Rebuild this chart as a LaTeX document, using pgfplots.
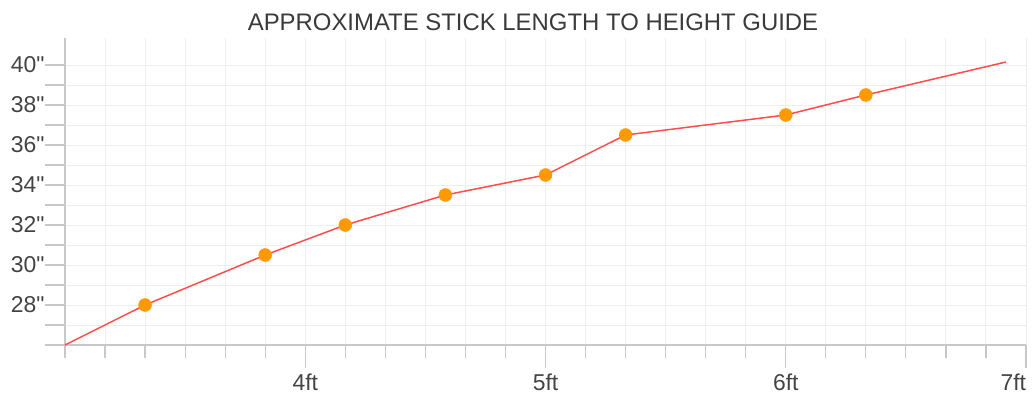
\documentclass[border=0pt]{standalone}
\usepackage{fontspec}
\setmainfont{Liberation Sans}[Ligatures=TeXOff]
\usepackage{pgfplots}
\pgfplotsset{compat=1.18}
\definecolor{gridc}{HTML}{EEEEEE}
\definecolor{axc}{HTML}{C8C8C8}
\definecolor{txt}{HTML}{444444}
\definecolor{titc}{HTML}{3A3A3A}
\definecolor{linec}{HTML}{FF4D4D}
\definecolor{markc}{HTML}{FF9900}
\newcommand{\inch}{\symbol{34}}
\begin{document}
\begin{tikzpicture}[x=1bp,y=1bp]
\begin{axis}[
  scale only axis, width=961bp, height=307bp,
  xmin=3, xmax=7, ymin=26, ymax=41.35,
  axis lines=left, axis line style={draw=axc, line width=1.2bp, -},
  tick align=outside,
  xtick={4,5,6,7}, xticklabels={4ft,5ft,6ft,\makebox[0pt][r]{7ft}},
  minor xtick={3,3.1666667,3.3333333,3.5,3.6666667,3.8333333,4.1666667,4.3333333,4.5,4.6666667,4.8333333,5.1666667,5.3333333,5.5,5.6666667,5.8333333,6.1666667,6.3333333,6.5,6.6666667,6.8333333},
  ytick={28,30,32,34,36,38,40}, yticklabels={28\inch,30\inch,32\inch,34\inch,36\inch,38\inch,40\inch},
  minor ytick={26,27,29,31,33,35,37,39},
  grid=both,
  major grid style={draw=gridc, line width=1bp},
  minor grid style={draw=gridc, line width=1bp},
  tick style={draw=axc, line width=1.2bp},
  major tick length=23bp, minor tick length=13bp,
  ytick style={/pgfplots/major tick length=20bp, /pgfplots/minor tick length=20bp},
  ticklabel style={font=\fontsize{23}{26}\selectfont, text=txt},
  yticklabel style={xshift=6bp},
  xticklabel style={yshift=-2bp},
  clip=false,
]
\addplot[linec, line width=1.5bp, mark=none] coordinates {
  (3,26) (3.3333,28) (3.8333,30.5) (4.1667,32) (4.5833,33.5) (5,34.5)
  (5.3333,36.5) (6,37.5) (6.3333,38.5) (6.9167,40.15)
};
\addplot[only marks, mark=*, mark size=6.5bp, mark options={fill=markc, draw=markc}] coordinates {
  (3.3333,28) (3.8333,30.5) (4.1667,32) (4.5833,33.5) (5,34.5)
  (5.3333,36.5) (6,37.5) (6.3333,38.5)
};
\end{axis}
\node[font=\fontsize{24}{28}\selectfont, text=titc] at (468,323) {APPROXIMATE STICK LENGTH TO HEIGHT GUIDE};
\pgfresetboundingbox
\useasboundingbox (-65,-51) rectangle (968,345);
\end{tikzpicture}
\end{document}
